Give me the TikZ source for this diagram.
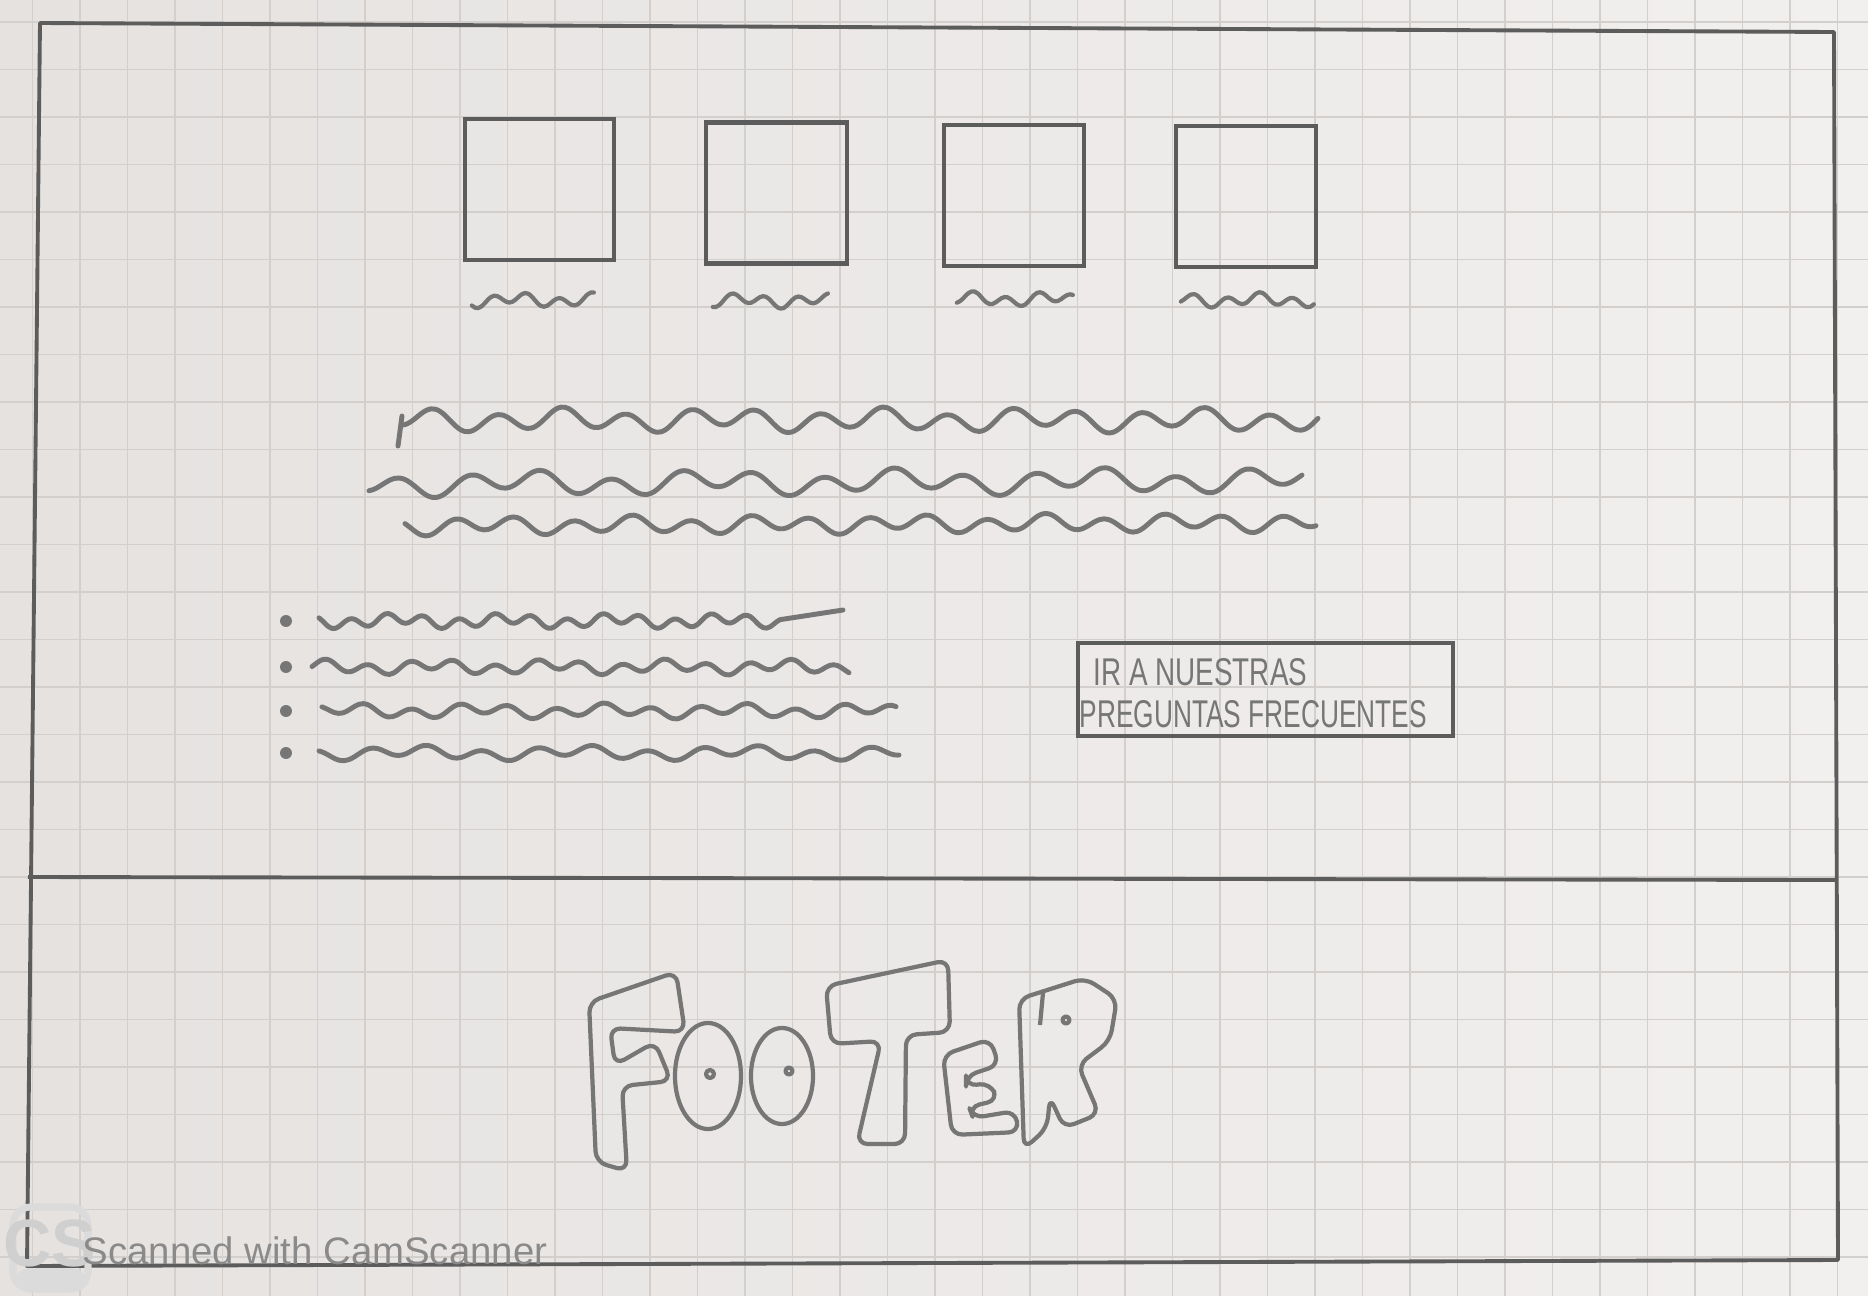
\documentclass[tikz,border=0pt]{standalone}
\usepackage{fontspec}
\setsansfont{Liberation Sans}
\usepackage{graphicx}
\usetikzlibrary{calc}

\definecolor{paperL}{RGB}{229,226,224}
\definecolor{paperR}{RGB}{242,240,239}
\definecolor{gridc}{RGB}{210,207,205}
\definecolor{pencil}{RGB}{92,92,92}
\definecolor{pencilsoft}{RGB}{118,118,118}
\definecolor{scanc}{RGB}{138,138,138}

\begin{document}
\begin{tikzpicture}[x=0.01cm,y=-0.01cm,
  gridline/.style={gridc,line width=0.45pt},
  frameline/.style={pencil,line width=1.1pt,line join=round},
  card/.style={draw=pencil,line width=1.2pt,minimum height=1.41cm,inner sep=0pt},
  capwave/.style={pencilsoft,line width=1.2pt,line cap=round,line join=round},
  wavyline/.style={pencilsoft,line width=1.4pt,line cap=round,line join=round},
  bulletdot/.style={circle,fill=pencilsoft,inner sep=0pt,minimum size=3.4pt},
  btnbox/.style={draw=pencil,line width=1pt,minimum width=3.75cm,minimum height=0.93cm,inner sep=0pt},
  btntext/.style={pencilsoft,inner sep=0pt,anchor=west,font=\sffamily\fontsize{11}{12}\selectfont},
  letterline/.style={pencilsoft,line width=1.2pt,line join=round,rounded corners=3pt}
]

% paper
\useasboundingbox (0,0) rectangle (1868,1296);
\fill[left color=paperL,right color=paperR] (0,0) rectangle (1868,1296);

% grid of the squared paper
\foreach \gx in {0,...,38}
  \draw[gridline] ({32.5+47.5*\gx},0) -- ++(0,1296);
\foreach \gy in {0,...,26}
  \draw[gridline] (0,{22+47.5*\gy}) -- ++(1868,0);

% page frame and footer divider
\draw[frameline] (40,23) -- (1834,32) -- (1838,1260) -- (27,1266) -- cycle;
\draw[frameline] (28,877) -- (1836,880);

% image cards with captions
\foreach \i/\cx/\cy/\w/\dx/\dy/\len in {1/539.5/189.5/1.49/9/38/122,
    2/776.5/193/1.41/9/35/115, 3/1014/195.5/1.40/15/31/116, 4/1246/196.5/1.40/7/31/133} {
  \node[card,minimum width=\w cm] (card\i) at (\cx,\cy) {};
  \draw[capwave,shift={($(card\i.south west)+(\dx,\dy)$)}]
    plot[smooth,domain=0:\len,samples=40] (\x,{5*sin(11*\x+30*\i)+3*sin(4.5*\x+70*\i)});
}

% paragraph
\draw[wavyline] (398,446) -- (402,416);
\draw[wavyline] plot[smooth,domain=402:1318,samples=220]
  (\x,{420+9*sin(5.6*\x)+4*sin(2.3*\x+50)});
\draw[wavyline] plot[smooth,domain=369:1302,samples=220]
  (\x,{484-0.004*(\x-369)+9*sin(5.1*\x+30)+5*sin(1.9*\x)});
\draw[wavyline] plot[smooth,domain=405:1316,samples=220]
  (\x,{526-0.004*(\x-405)+7*sin(6.1*\x+10)+3*sin(2.6*\x+70)});

% bullet list
\foreach \i/\by in {1/621,2/667,3/711,4/753}
  \node[bulletdot] (dot\i) at (286,\by) {};
\draw[wavyline] plot[smooth,domain=319:780,samples=140]
  (\x,{621+5*sin(10*\x)+3*sin(3.3*\x+40)}) -- (843,610);
\draw[wavyline] plot[smooth,domain=312:849,samples=140]
  (\x,{667+5*sin(8.5*\x+20)+3*sin(3.1*\x)});
\draw[wavyline] plot[smooth,domain=322:896,samples=140]
  (\x,{711+5*sin(7.5*\x+60)+3*sin(2.8*\x+10)});
\draw[wavyline] plot[smooth,domain=319:899,samples=140]
  (\x,{753+5*sin(6.5*\x+15)+3*sin(2.2*\x+80)});

% faq button
\node[btnbox] (faqbtn) at (1265.5,689.5) {};
\node[btntext] (faqline1) at (1093,672) {\scalebox{0.72}[1]{IR A NUESTRAS}};
\node[btntext] (faqline2) at (1079,714) {\scalebox{0.68}[1]{PREGUNTAS FRECUENTES}};

% footer lettering
\draw[letterline] (589,1002) -- (676,972) -- (685,1032) -- (610,1028) -- (615,1065)
  -- (655,1042) -- (671,1081) -- (622,1086) -- (627,1171) -- (596,1162) -- cycle;
\draw[letterline] (708,1076) ellipse [x radius=0.33cm,y radius=0.53cm];
\draw[letterline] (710,1074) circle [radius=0.04cm];
\draw[letterline] (782,1076) ellipse [x radius=0.31cm,y radius=0.48cm];
\draw[letterline] (789,1071) circle [radius=0.035cm];
\draw[letterline] (826,986) -- (948,960) -- (950,1032) -- (906,1035) -- (905,1144)
  -- (857,1144) -- (881,1041) -- (831,1044) -- cycle;
\draw[letterline] (943,1055) -- (990,1039) -- (999,1065) -- (966,1076) -- (966,1086)
  -- (990,1083) -- (998,1100) -- (969,1107) -- (973,1118) -- (1015,1111)
  -- (1019,1132) -- (952,1135) -- cycle;
\draw[letterline] (1019,999) -- (1085,978) -- (1117,999) -- (1110,1041) -- (1078,1065)
  -- (1099,1114) -- (1064,1128) -- (1050,1097) -- (1047,1128) -- (1024,1149) -- cycle;
\draw[letterline] (1040,1025) -- (1043,993);
\draw[letterline] (1066,1020) circle [radius=0.035cm];

% scanner watermark
\draw[gray!28,line width=2pt,rounded corners=5pt] (13,1207) rectangle (88,1289);
\fill[gray!28,rounded corners=5pt] (13,1268) rectangle (88,1289);
\node[gray!38,inner sep=0pt,font=\sffamily\bfseries\fontsize{19}{20}\selectfont] (scanlogo) at (50,1243) {CS};
\node[scanc,anchor=base west,inner sep=0pt,font=\sffamily\fontsize{10.9}{12}\selectfont] (scanmark) at (82,1264) {Scanned with CamScanner};

\end{tikzpicture}
\end{document}
